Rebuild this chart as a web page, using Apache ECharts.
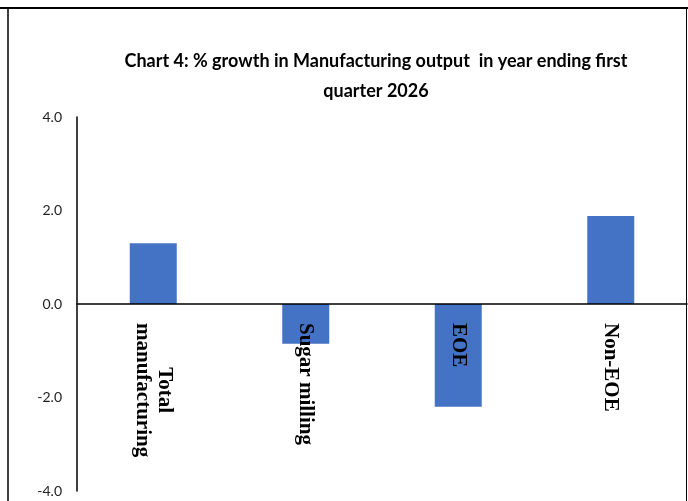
<!DOCTYPE html>
<html>
<head>
<meta charset="utf-8">
<script src="https://cdn.jsdelivr.net/npm/echarts@6/dist/echarts.min.js"></script>
<style>html,body{margin:0;padding:0;background:#fff}#c{width:688px;height:501px}</style>
</head>
<body>
<div id="c"></div>
<script>
const categories = ['Total\nmanufacturing', 'Sugar milling', 'EOE', 'Non-EOE'];
const growth = [1.3, -0.85, -2.2, 1.88];
const yTicks = [-4, -2, 0, 2, 4];

const chart = echarts.init(document.getElementById('c'), null, {renderer: 'canvas'});
chart.setOption({
  animation: false,
  title: {
    text: 'Chart 4: % growth in Manufacturing output  in year ending first\nquarter 2026',
    left: 371, top: 41, textAlign: 'center',
    textStyle: {fontFamily: 'Lato', fontWeight: 'bold', fontSize: 18, lineHeight: 30, color: '#000'}
  },
  graphic: [
    {type: 'line', shape: {x1: 0, y1: 8, x2: 688, y2: 8}, style: {stroke: '#000', lineWidth: 2}},
    {type: 'line', shape: {x1: 8, y1: 8, x2: 8, y2: 501}, style: {stroke: '#000', lineWidth: 1.5}},
    {type: 'line', shape: {x1: 686.5, y1: 8, x2: 686.5, y2: 501}, style: {stroke: '#000', lineWidth: 1}}
  ],
  grid: {left: 77, right: 1, top: 117, bottom: 10, containLabel: false, outerBoundsMode: 'none'},
  xAxis: {
    type: 'category',
    data: categories,
    offset: -187,
    z: 10,
    axisTick: {show: false},
    axisLine: {onZero: false, lineStyle: {color: '#000', width: 1.5}},
    axisLabel: {
      rotate: -90, margin: 19, interval: 0,
      formatter: v => v.split('\n').map(s => '{c|' + s + '}').join('\n'),
      rich: {c: {align: 'center', fontFamily: 'Liberation Serif', fontWeight: 'bold', fontSize: 21, color: '#000', lineHeight: 22}}
    }
  },
  yAxis: {
    type: 'value', min: -4, max: 4, interval: 2,
    splitLine: {show: false},
    axisTick: {show: false},
    axisLine: {show: true, lineStyle: {color: '#000', width: 1.5}},
    axisLabel: {
      margin: 15, fontFamily: 'Lato', fontSize: 14, color: '#222',
      formatter: v => yTicks.includes(v) ? v.toFixed(1) : ''
    }
  },
  series: [{
    type: 'bar', data: growth, barWidth: 47,
    itemStyle: {color: '#4472C4'}
  }]
});
</script>
</body>
</html>
